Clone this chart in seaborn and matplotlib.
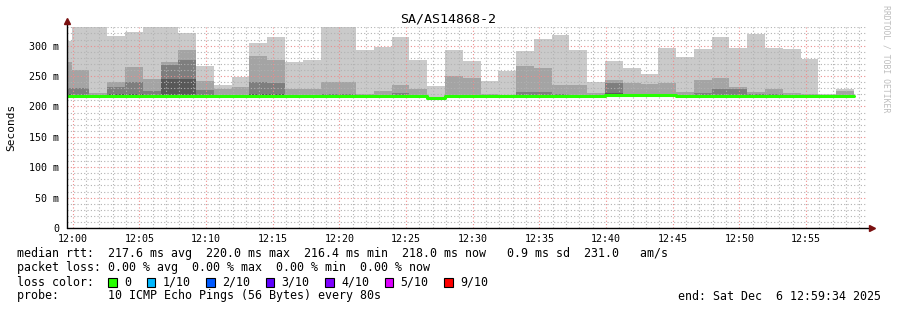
import numpy as np
import pandas as pd
import matplotlib
matplotlib.use("Agg")
import matplotlib.pyplot as plt
from matplotlib.ticker import MultipleLocator, FixedLocator, FixedFormatter
from matplotlib.patches import Rectangle
import seaborn as sns

# ---------------- data ----------------
title = "SA/AS14868-2"
# 80 s RRD steps; first (partial) bin starts before the graph start
bin_starts = pd.date_range("2025-12-06 11:58:35", periods=45, freq="80s")
graph_start = pd.Timestamp("2025-12-06 11:59:34")
graph_end = pd.Timestamp("2025-12-06 12:59:34")

# sorted pings (ms): highest, 2nd highest, 3rd, 4th  (smoke layers)
p10 = [308, 335, 340, 316, 322, 335, 335, 321, 267, 235, 248, 305, 315, 273, 276,
       340, 340, 293, 298, 315, 276, 234, 293, 275, 242, 259, 291, 311, 317, 293,
       240, 275, 263, 253, 296, 281, 294, 314, 296, 319, 296, 294, 278, 221, 229]
p9 = [273, 260, 222, 240, 265, 245, 273, 293, 242, 228, 232, 283, 277, 228, 229,
      240, 240, 221, 226, 236, 229, 216, 250, 247, 220, 219, 266, 263, 236, 236,
      222, 243, 238, 237, 238, 224, 244, 247, 232, 224, 229, 222, 220, 219, 225]
p8 = [231, 231, 219, 232, 240, 225, 268, 276, 227, 219, 219, 240, 238, 219, 219,
      220, 220, 218, 219, 222, 219, 215, 219, 219, 218, 218, 224, 224, 220, 219,
      219, 238, 220, 221, 220, 219, 222, 229, 229, 220, 220, 219, 218, 218, 219]
p7 = [220, 219, 218, 220, 221, 218, 245, 245, 219, 218, 218, 220, 220, 218, 218,
      218, 219, 218, 218, 218, 218, 214, 218, 218, 218, 218, 219, 218, 218, 218,
      218, 222, 219, 219, 219, 218, 218, 218, 218, 218, 218, 218, 218, 218, 218]
p1 = [215, 215, 215, 215, 215, 215, 215, 215, 215, 215, 215, 215, 215, 215, 215,
      215, 215, 215, 215, 215, 215, 212, 215, 215, 215, 215, 215, 215, 215, 215,
      215, 216, 216, 216, 216, 215, 215, 215, 215, 215, 215, 215, 215, 215, 215]
median = [217.6, 217.6, 217.6, 217.6, 217.6, 217.6, 217.6, 217.6, 217.6, 217.6, 217.6,
          217.6, 217.6, 217.6, 217.6, 217.6, 217.6, 217.6, 217.6, 217.6, 217.6, 214.5,
          217.6, 217.6, 217.6, 217.6, 217.6, 217.6, 217.6, 217.6, 217.6, 219.5, 219.5,
          219.5, 219.0, 217.6, 217.6, 217.6, 217.6, 217.6, 217.6, 217.6, 217.6, 217.6, 217.6]

x_tick_labels = ["12:00", "12:05", "12:10", "12:15", "12:20", "12:25",
                 "12:30", "12:35", "12:40", "12:45", "12:50", "12:55"]
y_tick_values = [0, 50, 100, 150, 200, 250, 300]
y_tick_labels = ["0", "50 m", "100 m", "150 m", "200 m", "250 m", "300 m"]

loss_labels = ["0", "1/10", "2/10", "3/10", "4/10", "5/10", "9/10"]
loss_colors = ["#26ff00", "#00b8ff", "#0059ff", "#5e00ff", "#7e00ff", "#dd00ff", "#ff0000"]

line1 = "median rtt:  217.6 ms avg  220.0 ms max  216.4 ms min  218.0 ms now   0.9 ms sd  231.0   am/s"
line2 = "packet loss: 0.00 % avg  0.00 % max  0.00 % min  0.00 % now"
line3 = "loss color:"
line4 = "probe:       10 ICMP Echo Pings (56 Bytes) every 80s"
end_text = "end: Sat Dec  6 12:59:34 2025"
watermark = "RRDTOOL / TOBI OETIKER"

smoke_colors = ["#cacaca", "#a4a4a4", "#7e7e7e", "#585858"]

# ---------------- figure ----------------
sns.set_theme(style="white")
plt.rcParams["font.family"] = ["DejaVu Sans Mono", "DejaVu Sans"]

W, H = 897, 310
fig = plt.figure(figsize=(W / 100, H / 100), dpi=100)
fig.patch.set_facecolor("white")
px_left, px_right, px_top, px_bottom = 67, 867, 27.4, 228
ax = fig.add_axes([px_left / W, 1 - px_bottom / H,
                   (px_right - px_left) / W, (px_bottom - px_top) / H])
ax.set_facecolor("white")

noon = pd.Timestamp("2025-12-06 12:00:00")
def to_min(t):
    return (t - noon).total_seconds() / 60.0

edges = [to_min(t) for t in bin_starts] + [to_min(bin_starts[-1] + pd.Timedelta(seconds=80))]

def stepvals(v):
    return list(v) + [v[-1]]

for top, col in zip([p10, p9, p8, p7], smoke_colors):
    ax.fill_between(edges, stepvals(p1), stepvals(top), step="post",
                    color=col, linewidth=0, zorder=1)

df = pd.DataFrame({"t": edges, "median": stepvals(median)})
sns.lineplot(data=df, x="t", y="median", ax=ax, color="#26ff00",
             linewidth=2.2, drawstyle="steps-post", zorder=3, sort=False)

ax.set_xlim(to_min(graph_start), to_min(graph_end))
ax.set_ylim(0, 330)

ax.xaxis.set_major_locator(FixedLocator(list(range(0, 60, 5))))
ax.xaxis.set_major_formatter(FixedFormatter(x_tick_labels))
ax.xaxis.set_minor_locator(MultipleLocator(1))
ax.yaxis.set_major_locator(FixedLocator(y_tick_values))
ax.yaxis.set_major_formatter(FixedFormatter(y_tick_labels))
ax.yaxis.set_minor_locator(MultipleLocator(10))

ax.set_axisbelow(False)
ax.grid(which="minor", color="#b2b2b2", linestyle=(0, (1, 2)), linewidth=0.8, zorder=2)
ax.grid(which="major", color="#ec8c8c", linestyle=(0, (1, 2)), linewidth=0.8, zorder=2)

for s in ax.spines.values():
    s.set_visible(False)

ax.tick_params(axis="both", which="major", direction="inout", length=4, width=0.7,
               color="#222222", labelsize=7.2, labelcolor="black")
ax.tick_params(axis="both", which="minor", direction="inout", length=2, width=0.5,
               color="#555555")
ax.tick_params(axis="y", pad=3.5)
ax.tick_params(axis="x", pad=2.0)
ax.set_xlabel("")
ax.set_ylabel("")

# axis lines with arrows
ax.plot([0, 1.004], [0, 0], transform=ax.transAxes, color="black", lw=1.0, clip_on=False, zorder=5)
ax.plot([0, 0], [0, 1.025], transform=ax.transAxes, color="black", lw=1.0, clip_on=False, zorder=5)
ax.plot([1.006], [0], transform=ax.transAxes, marker=">", ms=4, color="#7a1010",
        clip_on=False, zorder=6, mec="#7a1010")
ax.plot([0], [1.03], transform=ax.transAxes, marker="^", ms=4, color="#7a1010",
        clip_on=False, zorder=6, mec="#7a1010")

def fx(px):
    return px / W

def fy(py):
    return 1 - py / H

fig.text(fx(448), fy(19), title, ha="center", va="center", fontsize=9.6, color="black")
fig.text(fx(11), fy(127), "Seconds", rotation=90, ha="center", va="center",
         fontsize=8.0, color="black")
fig.text(fx(886), fy(59), watermark, rotation=270, ha="center", va="center",
         fontsize=5.9, color="#bdbdbd")

fs = 8.4
fig.text(fx(16.5), fy(254), line1, ha="left", va="center", fontsize=fs, color="black")
fig.text(fx(16.5), fy(268), line2, ha="left", va="center", fontsize=fs, color="black")
fig.text(fx(16.5), fy(282), line3, ha="left", va="center", fontsize=fs, color="black")
fig.text(fx(16.5), fy(296), line4, ha="left", va="center", fontsize=fs, color="black")
fig.text(fx(881), fy(296), end_text, ha="right", va="center", fontsize=fs, color="black")

# loss colour legend
char_w = 7.0
bx = 108.0
for lab, col in zip(loss_labels, loss_colors):
    fig.patches.append(Rectangle((fx(bx), fy(286.5)), 8.5 / W, 8.5 / H,
                                 transform=fig.transFigure, facecolor=col,
                                 edgecolor="black", linewidth=0.8))
    fig.text(fx(bx + 16), fy(282), lab, ha="left", va="center", fontsize=fs, color="black")
    bx = bx + 16 + len(lab) * char_w + 15.5

fig.savefig("out.png", dpi=100, facecolor="white")
